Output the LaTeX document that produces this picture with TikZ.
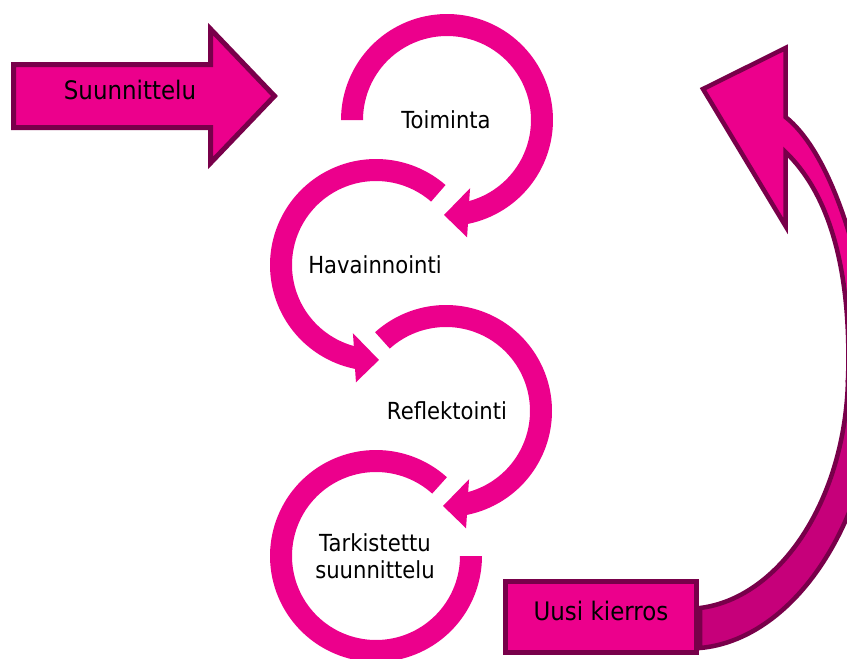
\documentclass[tikz,border=0pt]{standalone}
\usepackage{fontspec}
\setmainfont{DejaVu Sans}[FakeStretch=0.9]
\definecolor{pinkA}{RGB}{236,0,140}
\definecolor{darkB}{RGB}{120,0,74}
\definecolor{pinkC}{RGB}{198,0,122}
\tikzset{
  blockarrow/.style={fill=pinkA, draw=darkB, line width=5pt, line join=miter, miter limit=10},
  shaftpart/.style={draw=darkB, line width=4.5pt, line join=miter, miter limit=10},
  ringband/.style={fill=pinkA},
  lbl/.style={font=\fontsize{23.5}{26.7}\selectfont, align=center, inner sep=0pt},
  biglbl/.style={font=\fontsize{25.5}{30}\selectfont, inner sep=0pt},
}
\newcommand{\headring}[4]{%
  \begin{scope}[shift={(#1,#2)}, xscale=#3]
    \fill[ringband] (#4:106) -- plot[domain=#4:438.6, samples=100] (\x:106)
      -- (440.3:119) -- (451.8:95) -- (431.3:72) -- (434.7:84)
      -- plot[domain=434.7:#4, samples=100] (\x:84) -- cycle;
  \end{scope}}
\begin{document}
\begin{tikzpicture}[x=1pt,y=-1pt]
\useasboundingbox (0,0) rectangle (847,659);
\clip (0,0) rectangle (847,659);

% left block arrow
\draw[blockarrow] (13.5,64.5) -- (210.5,64.5) -- (210.5,29) -- (274.5,96)
  -- (210.5,163) -- (210.5,127.5) -- (13.5,127.5) -- cycle;
\node[biglbl, anchor=base] (plan) at (130,99) {Suunnittelu};

% circular arrows
\headring{447}{120}{1}{180}
\headring{376}{265}{-1}{229}
\headring{446}{411}{1}{228}
\begin{scope}[shift={(376,556)}, xscale=-1]
  \fill[ringband] (228:106) -- plot[domain=228:540, samples=120] (\x:106)
    -- plot[domain=540:228, samples=120] (\x:84) -- cycle;
\end{scope}
\node[lbl, anchor=base] (act) at (446,128) {Toiminta};
\node[lbl, anchor=base] (obs) at (375,273) {Havainnointi};
\node[lbl, anchor=base] (refl) at (447,419) {Reflektointi};
\node[lbl] (rev) at (375,556) {Tarkistettu\\suunnittelu};

% right curved arrow
\draw[shaftpart, fill=pinkC] (848,380) .. controls (845,500) and (780,598) .. (700,608)
  -- (700,648) .. controls (790,640) and (870,530) .. (878,380) -- cycle;
\draw[shaftpart, fill=pinkA] (785.5,152) -- (785.5,226) -- (703,89) -- (785.5,48)
  -- (785.5,117) .. controls (825,148) and (862,240) .. (878,380)
  -- (848,380) .. controls (852,260) and (825,190) .. (785.5,152) -- cycle;

% Uusi kierros box
\node[draw=darkB, fill=pinkA, line width=5pt, minimum width=191pt, minimum height=71pt, inner sep=0pt] (newbox) at (601,617) {};
\node[biglbl, anchor=base] (uusi) at (601,620) {Uusi kierros};
\end{tikzpicture}
\end{document}
